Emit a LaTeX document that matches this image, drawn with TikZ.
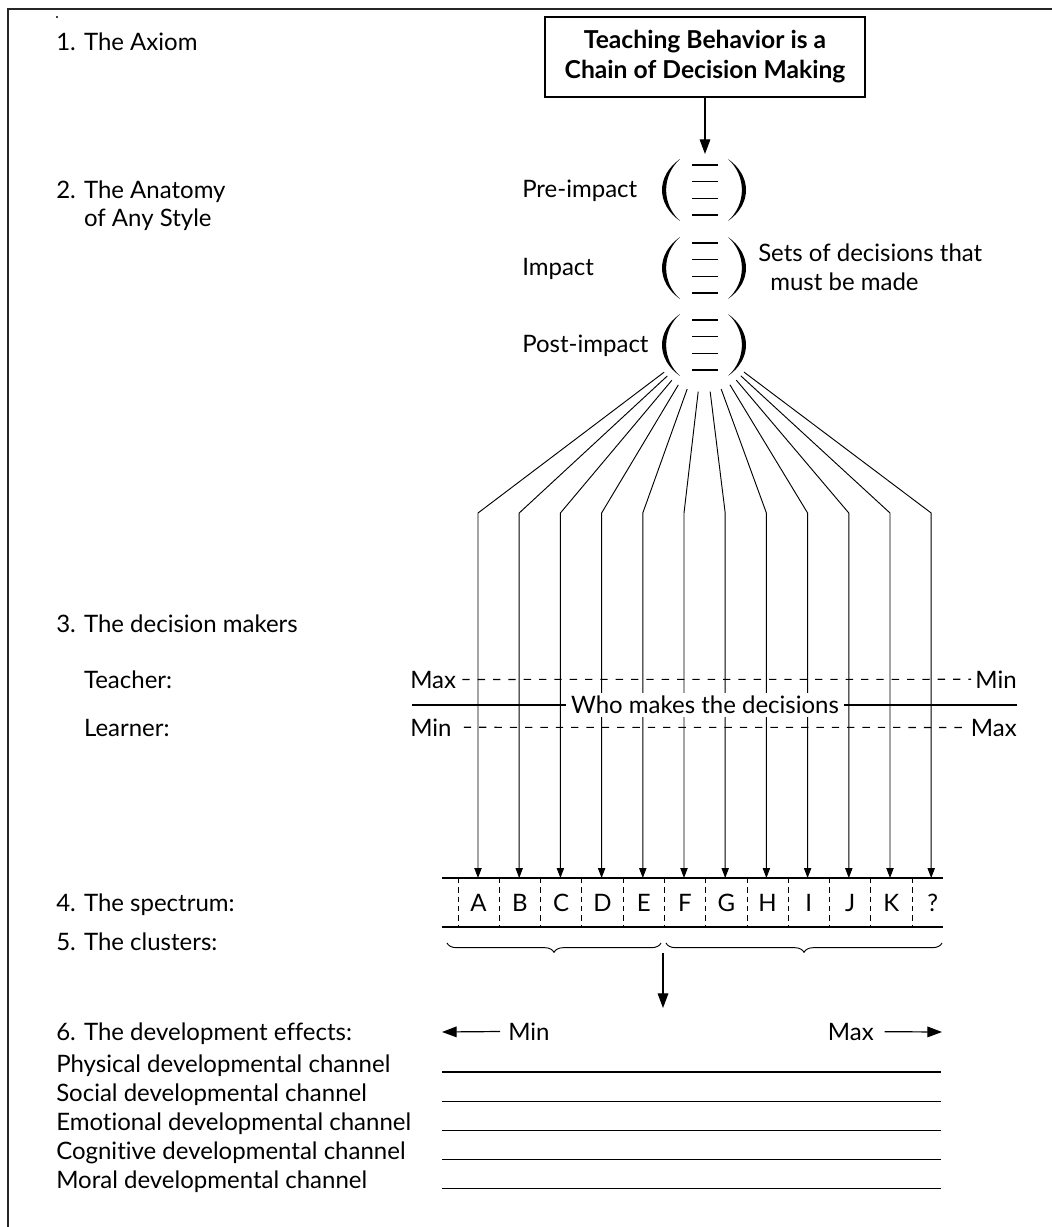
\documentclass[tikz,border=0pt]{standalone}
\usepackage{fontspec}
\setmainfont{Lato}[Ligatures=NoCommon]
\usepackage{tikz}
\usetikzlibrary{arrows.meta, calc, decorations.pathreplacing}

\begin{document}
\begin{tikzpicture}[x=0.75pt, y=-0.75pt, font=\fontsize{18}{22}\selectfont,
  lbl/.style={anchor=base west, inner sep=0pt},
  tip/.style={-{Triangle[length=7.5pt,width=5.5pt]}},
  bigtip/.style={-{Triangle[length=11pt,width=8pt]}},
  dashline/.style={dash pattern=on 5.5pt off 6pt, line width=0.8pt},
  divline/.style={dash pattern=on 4pt off 3pt, line width=0.7pt}]
\useasboundingbox (0,0) rectangle (1052,1227);
\draw[line width=1pt, black!85] (1052,9) -- (8,9) -- (8,1227);
\fill (57,17) circle (0.9pt);
\node[lbl] (ax) at (56,51) {1. The Axiom};
\node[draw, line width=0.8pt, minimum width=240pt, minimum height=60pt, align=center, font=\fontsize{18.5}{22.5}\selectfont\bfseries] (axiom) at (705,57) {Teaching Behavior is a\\Chain of Decision Making};
\coordinate (pretop) at (705,154);
\draw[bigtip, line width=0.8pt] (axiom) -- (pretop);
\node[lbl] (anat) at (56,198) {2. The Anatomy};
\node[lbl] (anat2) at (56,226) {\phantom{2. }of Any Style};
\foreach \y/\t/\n in {190/Pre-impact/pre, 268/Impact/imp, 345/Post-impact/post} {
  \node[lbl] (\n) at (522,\y+7) {\t};
  \fill (680,\y-31) .. controls (656,\y-14) and (656,\y+14) .. (680,\y+31) .. controls (661.5,\y+14) and (661.5,\y-14) .. (680,\y-31);
  \fill (728,\y-31) .. controls (752,\y-14) and (752,\y+14) .. (728,\y+31) .. controls (746.5,\y+14) and (746.5,\y-14) .. (728,\y-31);
  \foreach \d in {6,22.7,39.3,56} \draw[line width=0.8pt] (692,\y-31+\d) -- (718,\y-31+\d);
}
\node[lbl] (sets) at (758,261) {Sets of decisions that};
\node[lbl] (sets2) at (758,290) {\hspace{9pt}must be made};
\coordinate (hub) at (704,342);
\foreach \i in {0,...,11} {
  \coordinate (b\i) at ({478+41.2*\i},513);
  \coordinate (s\i) at ({478+41.2*\i},878);
  \draw[tip, line width=0.7pt] ($(hub)!37.5pt!(b\i)$) -- (b\i) -- (s\i);
}
\node[lbl] (dm) at (56,632) {3. The decision makers};
\node[lbl] (tch) at (56,688) {\phantom{3. }Teacher:};
\node[lbl] (lrn) at (56,736) {\phantom{3. }Learner:};
\node[lbl] (tmax) at (410,688) {Max};
\node[lbl, anchor=base east] (tmin) at (1017,688) {Min};
\node[lbl] (lmin) at (410,736) {Min};
\node[lbl, anchor=base east] (lmax) at (1017,736) {Max};
\draw[dashline, shorten <=4.5pt, shorten >=3pt] (tmax) -- (tmin);
\draw[dashline, shorten <=9pt, shorten >=1pt] (lmin) -- (lmax);
\coordinate (wl) at (412,705);
\coordinate (wr) at (1017,705);
\draw[line width=0.8pt] (wl) -- (wr);
\node[fill=white, inner xsep=4pt, inner ysep=2pt] (who) at (705,705) {Who makes the decisions};
\node[lbl] (spec) at (56,911) {4. The spectrum:};
\draw[line width=0.8pt] (442,878) -- (943,878) (442,927) -- (943,927);
\foreach \l [count=\i from 0] in {A,B,C,D,E,F,G,H,I,J,K,?} {
  \draw[divline] ({458+41.28*\i},878) -- ({458+41.28*\i},927);
  \node[anchor=base, inner sep=0pt] (c\i) at ({478.6+41.28*\i},911) {\l};
}
\node[lbl] (clu) at (56,950) {5. The clusters:};
\draw[decorate, decoration={brace, mirror, amplitude=7pt}, line width=0.7pt] (447,943) -- (661,943);
\draw[decorate, decoration={brace, mirror, amplitude=7pt}, line width=0.7pt] (666,943) -- (942,943);
\coordinate (cl) at (663,953);
\coordinate (clend) at (663,1008);
\draw[bigtip, line width=0.9pt] (cl) -- (clend);
\node[lbl] (dev) at (56,1040) {6. The development effects:};
\node[lbl] (mn) at (508,1040) {Min};
\node[lbl, anchor=base east] (mx) at (874,1040) {Max};
\coordinate (mnend) at (442,1032);
\coordinate (mxend) at (942,1032);
\draw[bigtip, line width=0.9pt, shorten <=6pt] (mn) -- (mnend);
\draw[bigtip, line width=0.9pt, shorten <=8pt] (mx) -- (mxend);
\foreach \t [count=\i from 0] in {Physical,Social,Emotional,Cognitive,Moral} {
  \node[lbl] (ch\i) at (56,{1072+29.2*\i}) {\t{} developmental channel};
  \draw[line width=0.8pt] (442,{1072+29.2*\i}) -- (941,{1072+29.2*\i});
}
\end{tikzpicture}
\end{document}
